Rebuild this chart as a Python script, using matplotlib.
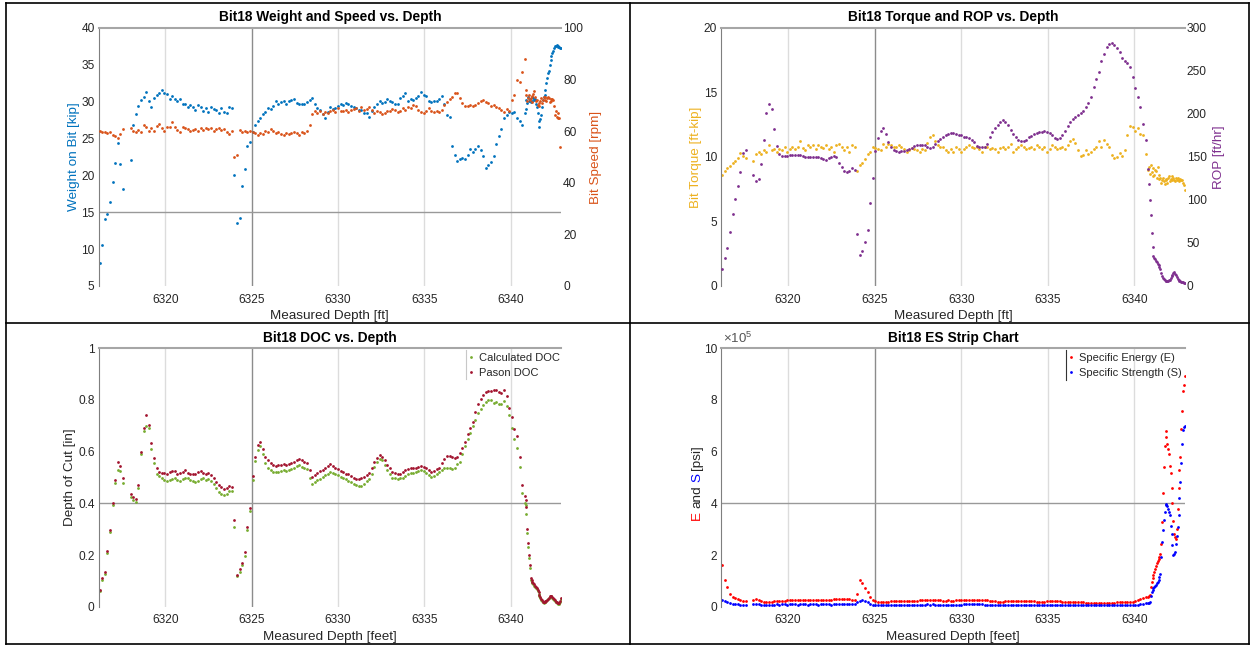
import numpy as np
import matplotlib
matplotlib.use('Agg')
import matplotlib.pyplot as plt
from matplotlib.lines import Line2D

nan = np.nan

# measured depth [ft], shared by all four strip charts
depth = [
    6316.2, 6316.35, 6316.5, 6316.65, 6316.8, 6316.95, 6317.1, 6317.25, 6317.4, 6317.55,
    6317.7, 6317.85, 6318.0, 6318.15, 6318.3, 6318.45, 6318.6, 6318.75, 6318.9, 6319.05,
    6319.2, 6319.35, 6319.5, 6319.65, 6319.8, 6319.95, 6320.1, 6320.25, 6320.4, 6320.55,
    6320.7, 6320.85, 6321.0, 6321.15, 6321.3, 6321.45, 6321.6, 6321.75, 6321.9, 6322.05,
    6322.2, 6322.35, 6322.5, 6322.65, 6322.8, 6322.95, 6323.1, 6323.25, 6323.4, 6323.55,
    6323.7, 6323.85, 6324.0, 6324.15, 6324.3, 6324.45, 6324.6, 6324.75, 6324.9, 6325.05,
    6325.2, 6325.35, 6325.5, 6325.65, 6325.8, 6325.95, 6326.1, 6326.25, 6326.4, 6326.55,
    6326.7, 6326.85, 6327.0, 6327.15, 6327.3, 6327.45, 6327.6, 6327.75, 6327.9, 6328.05,
    6328.2, 6328.35, 6328.5, 6328.65, 6328.8, 6328.95, 6329.1, 6329.25, 6329.4, 6329.55,
    6329.7, 6329.85, 6330.0, 6330.15, 6330.3, 6330.45, 6330.6, 6330.75, 6330.9, 6331.05,
    6331.2, 6331.35, 6331.5, 6331.65, 6331.8, 6331.95, 6332.1, 6332.25, 6332.4, 6332.55,
    6332.7, 6332.85, 6333.0, 6333.15, 6333.3, 6333.45, 6333.6, 6333.75, 6333.9, 6334.05,
    6334.2, 6334.35, 6334.5, 6334.65, 6334.8, 6334.95, 6335.1, 6335.25, 6335.4, 6335.55,
    6335.7, 6335.85, 6336.0, 6336.15, 6336.3, 6336.45, 6336.6, 6336.75, 6336.9, 6337.05,
    6337.2, 6337.35, 6337.5, 6337.65, 6337.8, 6337.95, 6338.1, 6338.25, 6338.4, 6338.55,
    6338.7, 6338.85, 6339.0, 6339.15, 6339.3, 6339.45, 6339.6, 6339.75, 6339.9, 6340.05,
    6340.2, 6340.35, 6340.5, 6340.65, 6340.8,
    6340.85, 6340.9, 6340.95, 6341.0, 6341.05, 6341.1, 6341.15, 6341.2, 6341.25, 6341.3,
    6341.35, 6341.4, 6341.45, 6341.5, 6341.55, 6341.6, 6341.65, 6341.7, 6341.75, 6341.8,
    6341.85, 6341.9, 6341.95, 6342.0, 6342.05, 6342.1, 6342.15, 6342.2, 6342.25, 6342.3,
    6342.35, 6342.4, 6342.45, 6342.5, 6342.55, 6342.6, 6342.65, 6342.7, 6342.75, 6342.8,
    6342.85, 6342.9,
]

# weight on bit [kip]
wob = [
    8.1, 10.5, 14.1, 14.8, 16.4, 19.1, 21.7, 24.4, 21.5, 18.2,
    nan, nan, 22.1, 26.8, 28.3, 29.4, 30.2, 30.6, 31.3, 30.0,
    29.3, 30.5, 30.9, 31.1, 31.5, 31.2, 31.0, 30.4, 30.8, 30.3,
    30.1, 30.3, 29.7, 29.6, 29.2, 29.5, 29.2, 28.8, 29.5, 29.2,
    28.7, 29.1, 28.6, 29.3, 29.0, 28.8, 28.5, 29.1, 28.6, 28.4,
    29.2, 29.1, 20.0, 13.5, 14.2, 18.6, 20.9, 24.0, 24.5, 25.9,
    26.8, 27.3, 27.7, 28.3, 28.6, 29.1, 29.0, 29.4, 30.0, 29.6,
    29.9, 30.1, 29.6, 30.0, 30.2, 30.4, 29.8, 29.6, 29.7, 29.6,
    29.9, 30.2, 30.5, 29.6, 29.1, 28.8, 28.3, 27.8, 28.6, 29.3,
    29.0, 29.1, 29.4, 29.6, 29.5, 29.8, 29.7, 29.4, 29.2, 29.1,
    28.9, 28.8, 28.5, 28.4, 27.9, 28.7, 29.2, 29.7, 30.0, 29.8,
    29.9, 30.3, 30.0, 29.9, 29.7, 29.6, 30.5, 30.7, 31.1, 30.1,
    30.3, 30.2, 30.5, 30.8, 31.3, 30.9, 30.7, 30.0, 29.9, 30.0,
    30.1, 30.4, 30.7, 29.6, 28.2, 27.9, 24.0, 22.8, 21.9, 22.2,
    22.4, 22.2, 22.8, 23.6, 23.2, 23.6, 24.0, 23.4, 22.6, 21.0,
    21.4, 21.8, 22.6, 24.3, 25.3, 26.3, 27.8, 28.2, 28.6, 28.5,
    28.6, 27.8, 27.4, 26.8, 28.4,
    29.0, 30.2, 29.8, 30.6, 30.0, 30.4, 29.9, 30.6, 30.1, 30.5,
    30.2, 30.4, 29.6, 29.3, 28.4, 27.3, 26.6, 27.6, 28.2, 29.3,
    30.2, 30.6, 30.9, 31.6, 32.5, 33.2, 33.8, 34.2, 35.0, 35.6,
    36.1, 36.6, 36.9, 37.3, 37.5, 37.5, 37.6, 37.4, 37.5, 37.4,
    37.3, 37.2,
]

# bit speed [rpm]
rpm = [
    60.0, 59.6, 59.8, 59.4, 59.7, 58.6, 58.0, 57.4, 58.9, 60.9,
    nan, nan, 61.3, 60.0, 59.7, 60.4, 59.5, 62.3, 61.6, 59.9,
    61.0, 60.0, 62.1, 62.6, 61.0, 60.0, 61.7, 61.4, 63.4, 61.7,
    60.4, 59.7, 61.5, 61.0, 60.8, 60.0, 60.4, 60.9, 60.1, 61.0,
    60.4, 61.0, 60.6, 61.2, 60.2, 60.8, 61.1, 60.5, 60.9, 59.7,
    58.7, 60.2, 50.1, 50.8, 60.4, 59.5, 60.0, 59.5, 59.9, 59.7,
    59.4, 58.3, 59.2, 58.8, 60.0, 59.5, 60.6, 60.0, 59.4, 59.8,
    59.0, 58.5, 59.1, 58.7, 59.3, 59.8, 59.2, 58.6, 59.7, 59.4,
    60.0, 62.5, 66.5, 67.7, 66.8, 67.6, 66.5, 67.2, 66.9, 67.7,
    68.1, 67.3, 68.8, 67.9, 67.7, 68.1, 67.5, 68.1, 68.4, 68.8,
    67.6, 69.4, 68.1, 68.6, 69.4, 68.2, 66.8, 67.9, 67.2, 66.6,
    66.8, 67.9, 67.7, 68.4, 68.1, 67.4, 67.7, 68.8, 68.2, 69.4,
    68.9, 70.1, 69.5, 68.1, 67.4, 66.8, 67.6, 68.8, 67.8, 67.2,
    67.7, 67.3, 68.0, 70.1, 71.4, 72.5, 73.3, 74.8, 74.6, 72.9,
    70.7, 69.8, 69.7, 70.2, 69.7, 69.9, 70.7, 71.6, 72.2, 71.3,
    70.8, 69.7, 69.9, 69.2, 68.8, 68.3, 67.5, 68.6, 67.9, 72.0,
    73.9, 79.7, 79.0, 82.9, 88.0,
    76.0, 73.9, 71.5, 72.8, 74.0, 71.9, 72.6, 73.5, 71.2, 74.2,
    75.6, 73.0, 71.8, 72.0, 70.2, 70.9, 69.8, 71.5, 72.6, 71.0,
    72.2, 73.0, 73.3, 72.1, 71.5, 72.8, 73.1, 72.6, 71.4, 72.3,
    71.8, 72.5, 72.0, 69.5, 66.2, 67.8, 65.5, 66.8, 65.0, 65.0,
    54.0, nan,
]

# bit torque [ft-kip]
torque = [
    8.6, 8.9, 9.1, 9.3, 9.5, 9.7, 9.9, 10.3, 10.1, 9.9,
    nan, nan, 9.7, 10.2, 10.4, 10.2, 10.5, 10.4, 10.9, 10.5,
    10.6, 10.4, 10.6, 10.5, 10.75, 10.4, 10.6, 10.8, 10.6, 10.75,
    11.2, 10.7, 10.5, 10.9, 10.75, 10.9, 10.6, 10.9, 10.8, 10.7,
    10.9, 10.6, 10.8, 10.4, 10.9, 11.0, 10.75, 10.5, 10.75, 10.4,
    10.9, 10.8, 8.9, 9.4, 9.5, 9.8, 10.2, 10.4, 10.75, 10.7,
    10.6, 10.5, 11.0, 10.8, 11.0, 10.9, 10.75, 10.8, 10.9, 10.75,
    10.6, 10.4, 10.5, 10.7, 10.6, 10.5, 10.4, 10.6, 10.5, 11.1,
    11.5, 11.7, 11.2, 10.9, 10.8, 10.75, 10.5, 10.4, 10.6, 10.4,
    10.75, 10.6, 10.4, 10.6, 10.8, 10.9, 10.8, 10.7, 10.75, 10.6,
    10.4, 10.8, 10.75, 10.6, 10.7, 10.6, 10.4, 10.7, 10.8, 10.6,
    10.75, 11.0, 10.4, 10.6, 10.75, 10.9, 10.75, 10.6, 10.7, 10.8,
    10.6, 10.9, 10.8, 10.6, 10.75, 10.4, 10.6, 10.9, 10.75, 10.6,
    10.7, 10.8, 10.6, 10.9, 11.2, 11.35, 11.1, 10.5, 10.1, 10.15,
    10.5, 10.2, 10.4, 10.6, 10.75, 11.2, 10.75, 11.3, 11.0, 10.8,
    10.15, 9.9, 10.0, 10.3, 10.1, 10.5, 11.7, 12.4, 12.3, 12.0,
    12.2, 11.8, 11.7, 10.2, 9.0,
    9.2, 8.7, 9.4, 8.8, 9.1, 8.5, 8.6, 9.0, 8.9, 8.4,
    9.25, 8.6, 8.3, 8.35, 8.0, 8.2, 8.4, 8.1, 7.9, 8.2,
    8.3, 8.0, 8.4, 8.5, 8.1, 8.3, 8.5, 8.2, 8.4, 8.2,
    8.1, 8.35, 8.2, 8.4, 8.2, 8.1, 8.3, 8.2, 8.2, 8.0,
    7.8, 7.45,
]

# rate of penetration [ft/hr]
rop = [
    20.0, 33.0, 44.7, 63.0, 84.0, 101.0, 116.0, 132.0, 154.0, 157.4,
    nan, nan, 129.0, 122.4, 124.5, 142.0, 170.0, 201.3, 211.5, 205.0,
    182.0, 163.0, 153.0, 151.0, 150.8, 151.2, 151.6, 152.0, 152.2, 152.5,
    152.7, 151.5, 150.4, 149.8, 149.6, 150.0, 150.4, 149.8, 148.9, 147.8,
    146.9, 148.2, 149.6, 151.0, 149.5, 143.0, 138.0, 133.3, 132.1, 133.5,
    136.5, 135.2, 60.0, 36.5, 41.0, 51.0, 65.0, 96.0, 125.0, 157.0,
    172.0, 180.0, 183.4, 176.0, 167.0, 161.0, 158.0, 156.5, 156.2, 156.6,
    157.0, 158.0, 158.8, 160.5, 162.8, 163.8, 164.0, 163.6, 163.2, 161.0,
    160.5, 161.5, 165.0, 168.0, 171.0, 173.5, 175.7, 177.0, 178.0, 178.0,
    176.7, 175.5, 174.8, 173.6, 172.7, 171.6, 170.0, 166.8, 162.6, 161.5,
    161.3, 161.5, 165.2, 173.5, 178.5, 183.0, 187.0, 190.8, 192.4, 190.5,
    186.5, 180.7, 176.0, 172.5, 170.0, 168.8, 168.0, 169.8, 172.5, 174.5,
    176.0, 177.3, 178.5, 179.2, 179.6, 179.3, 178.2, 174.9, 172.3, 170.6,
    171.5, 175.0, 180.4, 185.5, 190.0, 193.4, 196.3, 198.5, 200.4, 203.0,
    207.5, 212.5, 220.0, 231.0, 240.0, 248.7, 261.0, 270.0, 277.7, 281.5,
    282.0, 279.8, 276.0, 272.0, 264.5, 261.5, 258.5, 254.0, 243.0, 230.0,
    219.0, 208.3, 188.0, 170.0, 136.0,
    118.0, 100.0, 82.0, 62.0, 45.0, 34.7, 32.8, 31.0, 29.2, 27.5,
    26.0, 24.5, 22.0, 19.5, 15.5, 12.0, 9.5, 8.0, 7.0, 6.2,
    5.8, 5.8, 6.0, 6.5, 7.5, 9.0, 11.5, 13.0, 15.0, 16.2,
    14.5, 12.5, 10.5, 8.5, 7.2, 6.2, 5.6, 5.0, 4.6, 4.2,
    3.9, 3.6,
]

# depth of cut [in]
doc_calc = [
    0.062, 0.104, 0.128, 0.208, 0.288, 0.392, 0.480, 0.530, 0.525, 0.478,
    nan, nan, 0.425, 0.412, 0.405, 0.460, 0.590, 0.680, 0.700, 0.690,
    0.610, 0.555, 0.515, 0.505, 0.498, 0.492, 0.485, 0.490, 0.495, 0.500,
    0.492, 0.488, 0.494, 0.500, 0.497, 0.490, 0.485, 0.482, 0.488, 0.495,
    0.497, 0.490, 0.493, 0.488, 0.475, 0.460, 0.445, 0.437, 0.432, 0.438,
    0.446, 0.448, 0.310, 0.118, 0.135, 0.160, 0.198, 0.295, 0.370, 0.490,
    0.565, 0.605, 0.622, 0.590, 0.555, 0.538, 0.528, 0.522, 0.522, 0.520,
    0.526, 0.528, 0.524, 0.529, 0.534, 0.538, 0.545, 0.548, 0.541, 0.537,
    0.532, 0.497, 0.475, 0.483, 0.490, 0.496, 0.502, 0.508, 0.515, 0.521,
    0.518, 0.512, 0.508, 0.502, 0.500, 0.494, 0.488, 0.482, 0.476, 0.470,
    0.466, 0.468, 0.475, 0.485, 0.495, 0.515, 0.540, 0.560, 0.570, 0.566,
    0.550, 0.530, 0.512, 0.500, 0.497, 0.495, 0.498, 0.500, 0.505, 0.512,
    0.518, 0.517, 0.522, 0.525, 0.528, 0.524, 0.518, 0.508, 0.502, 0.505,
    0.514, 0.520, 0.530, 0.535, 0.538, 0.536, 0.533, 0.538, 0.552, 0.560,
    0.590, 0.620, 0.648, 0.672, 0.700, 0.722, 0.748, 0.765, 0.782, 0.792,
    0.800, 0.798, 0.790, 0.792, 0.786, 0.785, 0.795, 0.775, 0.740, 0.690,
    0.650, 0.615, 0.540, 0.440, 0.400,
    0.395, 0.360, 0.285, 0.232, 0.190, 0.150, 0.104, 0.097, 0.092, 0.087,
    0.082, 0.077, 0.072, 0.067, 0.059, 0.051, 0.043, 0.034, 0.027, 0.021,
    0.017, 0.016, 0.017, 0.019, 0.021, 0.024, 0.028, 0.032, 0.037, 0.040,
    0.039, 0.035, 0.031, 0.027, 0.022, 0.018, 0.016, 0.013, 0.011, 0.012,
    0.019, 0.028,
]

doc_pason = [
    0.065, 0.110, 0.133, 0.215, 0.295, 0.400, 0.490, 0.560, 0.545, 0.497,
    nan, nan, 0.435, 0.424, 0.417, 0.470, 0.600, 0.690, 0.740, 0.705,
    0.635, 0.575, 0.535, 0.523, 0.518, 0.516, 0.512, 0.520, 0.527, 0.525,
    0.512, 0.516, 0.523, 0.528, 0.518, 0.514, 0.515, 0.512, 0.520, 0.525,
    0.518, 0.515, 0.519, 0.510, 0.500, 0.482, 0.470, 0.462, 0.455, 0.458,
    0.466, 0.462, 0.335, 0.123, 0.145, 0.170, 0.210, 0.310, 0.381, 0.505,
    0.580, 0.625, 0.639, 0.610, 0.580, 0.568, 0.557, 0.548, 0.546, 0.547,
    0.549, 0.551, 0.547, 0.552, 0.557, 0.561, 0.567, 0.571, 0.566, 0.561,
    0.558, 0.528, 0.502, 0.510, 0.516, 0.524, 0.530, 0.537, 0.545, 0.551,
    0.544, 0.538, 0.531, 0.526, 0.520, 0.515, 0.512, 0.505, 0.500, 0.496,
    0.494, 0.497, 0.503, 0.510, 0.518, 0.537, 0.561, 0.577, 0.587, 0.581,
    0.566, 0.550, 0.535, 0.522, 0.516, 0.512, 0.514, 0.520, 0.529, 0.534,
    0.537, 0.535, 0.535, 0.542, 0.545, 0.540, 0.537, 0.529, 0.523, 0.527,
    0.532, 0.538, 0.555, 0.570, 0.585, 0.584, 0.580, 0.574, 0.579, 0.596,
    0.615, 0.639, 0.668, 0.690, 0.715, 0.752, 0.785, 0.805, 0.820, 0.832,
    0.836, 0.834, 0.838, 0.840, 0.832, 0.827, 0.840, 0.815, 0.770, 0.735,
    0.686, 0.660, 0.580, 0.470, 0.427,
    0.412, 0.385, 0.300, 0.245, 0.200, 0.160, 0.110, 0.102, 0.097, 0.092,
    0.086, 0.081, 0.076, 0.071, 0.063, 0.055, 0.046, 0.037, 0.030, 0.024,
    0.019, 0.018, 0.019, 0.021, 0.023, 0.026, 0.030, 0.034, 0.040, 0.043,
    0.041, 0.037, 0.033, 0.029, 0.024, 0.020, 0.018, 0.015, 0.013, 0.014,
    0.022, 0.032,
]

# specific energy and specific strength, in units of 1e5 psi
spec_energy = [
    1.60, 1.05, 0.75, 0.50, 0.38, 0.33, 0.29, 0.24, 0.21, 0.22,
    nan, nan, 0.26, 0.30, 0.27, 0.21, 0.18, 0.17, 0.19, 0.20,
    0.21, 0.22, 0.22, 0.23, 0.23, 0.24, 0.24, 0.24, 0.25, 0.24,
    0.25, 0.25, 0.24, 0.25, 0.25, 0.26, 0.25, 0.25, 0.26, 0.26,
    0.26, 0.27, 0.27, 0.28, 0.28, 0.29, 0.30, 0.30, 0.29, 0.28,
    0.27, 0.26, 0.50, 1.02, 0.90, 0.74, 0.55, 0.38, 0.27, 0.21,
    0.18, 0.17, 0.19, 0.20, 0.20, 0.21, 0.21, 0.22, 0.21, 0.22,
    0.22, 0.22, 0.23, 0.22, 0.23, 0.23, 0.24, 0.24, 0.25, 0.24,
    0.25, 0.26, 0.25, 0.24, 0.24, 0.23, 0.23, 0.24, 0.23, 0.23,
    0.24, 0.24, 0.24, 0.25, 0.25, 0.26, 0.26, 0.27, 0.27, 0.26,
    0.26, 0.25, 0.24, 0.23, 0.22, 0.21, 0.20, 0.20, 0.20, 0.21,
    0.21, 0.22, 0.22, 0.23, 0.23, 0.22, 0.22, 0.22, 0.21, 0.21,
    0.21, 0.20, 0.20, 0.20, 0.20, 0.21, 0.21, 0.22, 0.22, 0.21,
    0.21, 0.20, 0.20, 0.19, 0.19, 0.18, 0.18, 0.17, 0.17, 0.17,
    0.16, 0.16, 0.16, 0.15, 0.15, 0.15, 0.15, 0.15, 0.15, 0.16,
    0.16, 0.16, 0.17, 0.17, 0.18, 0.18, 0.19, 0.19, 0.20, 0.22,
    0.25, 0.31, 0.33, 0.37, 0.38,
    0.40, 0.45, 0.75, 0.95, 1.10, 1.22, 1.35, 1.47, 1.58, 1.68,
    1.76, 1.85, 1.92, 2.05, 2.44, 3.27, 4.40, 5.42, 6.20, 6.79,
    6.55, 6.30, 6.12, 5.90, 5.45, 5.19, 4.60, 4.00, 3.33, 2.82,
    2.70, 2.63, 3.00, 3.80, 4.60, 5.30, 5.80, 6.86, 7.56, 8.33,
    8.59, 8.91,
]

spec_strength = [
    0.27, 0.22, 0.18, 0.14, 0.11, 0.10, 0.09, 0.08, 0.07, 0.05,
    nan, nan, 0.09, 0.12, 0.10, 0.08, 0.07, 0.07, 0.07, 0.08,
    0.08, 0.09, 0.08, 0.09, 0.09, 0.08, 0.09, 0.09, 0.09, 0.08,
    0.09, 0.09, 0.09, 0.08, 0.09, 0.09, 0.09, 0.08, 0.09, 0.09,
    0.09, 0.09, 0.08, 0.09, 0.09, 0.09, 0.10, 0.10, 0.10, 0.09,
    0.09, 0.09, 0.18, 0.23, 0.24, 0.22, 0.17, 0.12, 0.08, 0.06,
    0.06, 0.06, 0.06, 0.07, 0.07, 0.07, 0.07, 0.07, 0.07, 0.08,
    0.07, 0.07, 0.08, 0.07, 0.08, 0.08, 0.08, 0.08, 0.08, 0.09,
    0.08, 0.09, 0.08, 0.08, 0.08, 0.08, 0.08, 0.08, 0.08, 0.08,
    0.08, 0.08, 0.08, 0.09, 0.09, 0.09, 0.09, 0.09, 0.09, 0.09,
    0.09, 0.08, 0.08, 0.08, 0.07, 0.07, 0.07, 0.07, 0.07, 0.07,
    0.08, 0.08, 0.08, 0.08, 0.08, 0.08, 0.07, 0.07, 0.07, 0.07,
    0.07, 0.07, 0.07, 0.07, 0.07, 0.07, 0.07, 0.08, 0.08, 0.07,
    0.07, 0.07, 0.07, 0.07, 0.06, 0.06, 0.06, 0.06, 0.06, 0.06,
    0.06, 0.05, 0.05, 0.05, 0.05, 0.05, 0.05, 0.05, 0.05, 0.05,
    0.05, 0.05, 0.05, 0.05, 0.06, 0.06, 0.06, 0.06, 0.06, 0.07,
    0.08, 0.10, 0.11, 0.13, 0.14,
    0.15, 0.19, 0.40, 0.55, 0.65, 0.71, 0.76, 0.80, 0.83, 0.90,
    0.97, 1.05, 1.15, 1.25, 1.92, 2.50, 2.95, 3.35, 3.65, 3.97,
    3.95, 3.91, 3.78, 3.65, 3.53, 3.14, 2.80, 2.40, 1.99, 2.05,
    2.12, 2.44, 2.75, 3.10, 3.53, 4.20, 4.81, 5.58, 6.28, 6.83,
    6.95, 6.99,
]

depth_ticks = [6320, 6325, 6330, 6335, 6340]

# matlab default colours
BLUE = '#0072BD'
ORANGE = '#D95319'
YELLOW = '#EDB120'
PURPLE = '#7E2F8E'
GREEN = '#77AC30'
CRIMSON = '#A2142F'
TXT = '#262626'

TICK_FS = 8.6
LABEL_FS = 9.7
TITLE_FS = 9.9
LEG_FS = 8.0

plt.rcParams['font.family'] = ['Liberation Sans', 'DejaVu Sans']
plt.rcParams['mathtext.fontset'] = 'custom'
plt.rcParams['mathtext.rm'] = 'Liberation Sans'

W, H = 1252, 646
fig = plt.figure(figsize=(W / 100, H / 100), dpi=100)


def px_axes(left, top, right, bottom):
    return fig.add_axes([left / W, 1 - bottom / H, (right - left) / W, (bottom - top) / H])


def style(ax, xlabel, title, hline):
    ax.set_xlim(6316.15, 6342.9)
    ax.set_xticks(depth_ticks)
    ax.tick_params(length=0, labelsize=TICK_FS, colors=TXT)
    ax.tick_params(axis='x', pad=5.5)
    ax.tick_params(axis='y', pad=3)
    ax.spines['bottom'].set_visible(False)
    ax.spines['right'].set_visible(False)
    ax.spines['top'].set_color('#a6a6a6')
    ax.spines['top'].set_linewidth(1.5)
    ax.spines['left'].set_color('#7f7f7f')
    for x in depth_ticks:
        c = '#8c8c8c' if x == 6325 else '#dcdcdc'
        ax.axvline(x, color=c, lw=1.0, zorder=0)
    if hline is not None:
        ax.axhline(hline, color='#999999', lw=1.0, zorder=0)
    ax.set_xlabel(xlabel, fontsize=LABEL_FS, color=TXT, labelpad=3)
    ax.set_title(title, fontsize=TITLE_FS, fontweight='bold', pad=4.5)


def twin_style(ax2):
    for s in ax2.spines.values():
        s.set_visible(False)
    ax2.tick_params(length=0, labelsize=TICK_FS, colors=TXT, pad=1.5)


def dots(ax, y, color):
    ax.plot(depth, y, 'o', ms=2.0, mew=0, color=color)


# --- weight and speed ---
ax1 = px_axes(98.7, 27.7, 561, 286)
style(ax1, 'Measured Depth [ft]', 'Bit18 Weight and Speed vs. Depth', 15)
ax1.set_ylim(5, 40)
ax1.set_yticks([5, 10, 15, 20, 25, 30, 35, 40])
dots(ax1, wob, BLUE)
ax1b = ax1.twinx()
twin_style(ax1b)
ax1b.set_ylim(0, 100)
ax1b.set_yticks([0, 20, 40, 60, 80, 100])
dots(ax1b, rpm, ORANGE)
fig.text(74 / W, 1 - 157 / H, 'Weight on Bit [kip]', rotation=90, ha='center', va='center', fontsize=LABEL_FS, color=BLUE)
fig.text(596 / W, 1 - 157 / H, 'Bit Speed [rpm]', rotation=90, ha='center', va='center', fontsize=LABEL_FS, color=ORANGE)

# --- torque and rop ---
ax2 = px_axes(721.3, 27.7, 1184.6, 286)
style(ax2, 'Measured Depth [ft]', 'Bit18 Torque and ROP vs. Depth', None)
ax2.set_ylim(0, 20)
ax2.set_yticks([0, 5, 10, 15, 20])
dots(ax2, torque, YELLOW)
ax2b = ax2.twinx()
twin_style(ax2b)
ax2b.set_ylim(0, 300)
ax2b.set_yticks([0, 50, 100, 150, 200, 250, 300])
dots(ax2b, rop, PURPLE)
fig.text(696 / W, 1 - 157 / H, 'Bit Torque [ft-kip]', rotation=90, ha='center', va='center', fontsize=LABEL_FS, color=YELLOW)
fig.text(1219 / W, 1 - 157 / H, 'ROP [ft/hr]', rotation=90, ha='center', va='center', fontsize=LABEL_FS, color=PURPLE)

# --- depth of cut ---
ax3 = px_axes(98.7, 348.3, 561, 606.7)
style(ax3, 'Measured Depth [feet]', 'Bit18 DOC vs. Depth', 0.4)
ax3.set_ylim(0, 1)
ax3.set_yticks([0, 0.2, 0.4, 0.6, 0.8, 1])
ax3.set_yticklabels(['0', '0.2', '0.4', '0.6', '0.8', '1'])
ax3.plot(depth, doc_calc, 'o', ms=2.0, mew=0, color=GREEN, label='Calculated DOC')
ax3.plot(depth, doc_pason, 'o', ms=2.0, mew=0, color=CRIMSON, label='Pason DOC')
fig.text(70 / W, 1 - 477.5 / H, 'Depth of Cut [in]', rotation=90, ha='center', va='center', fontsize=LABEL_FS, color=TXT)
leg3 = ax3.legend(loc='upper left', bbox_to_anchor=((466 - 98.7) / 462.3, 0.99), frameon=False,
                  fontsize=LEG_FS, handlelength=0.6, handletextpad=0.45, borderpad=0.15, borderaxespad=0,
                  labelspacing=0.45)
for t in leg3.get_texts():
    t.set_color(TXT)
fig.add_artist(Line2D([466 / W, 466 / W], [1 - 350 / H, 1 - 379 / H], color='#c8c8c8', lw=0.8))

# --- specific energy strip chart ---
ax4 = px_axes(721.3, 348.3, 1184.6, 606.7)
style(ax4, 'Measured Depth [feet]', 'Bit18 ES Strip Chart', 4)
ax4.set_ylim(0, 10)
ax4.set_yticks([0, 2, 4, 6, 8, 10])
ax4.plot(depth, spec_energy, 'o', ms=2.0, mew=0, color='#ff0000', label='Specific Energy (E)')
ax4.plot(depth, spec_strength, 'o', ms=2.0, mew=0, color='#0000ff', label='Specific Strength (S)')
leg4 = ax4.legend(loc='upper left', bbox_to_anchor=((1066 - 721.3) / 463.3, 0.99), frameon=False,
                  fontsize=LEG_FS, handlelength=0.6, handletextpad=0.45, borderpad=0.15, borderaxespad=0,
                  labelspacing=0.45)
for t in leg4.get_texts():
    t.set_color(TXT)
fig.add_artist(Line2D([1066 / W, 1066 / W], [1 - 350 / H, 1 - 380 / H], color='#333333', lw=0.8))
fig.text(723 / W, 1 - 338 / H, r'$\times10^{5}$', fontsize=9.5, color='#555555', va='center', ha='left')

# two-colour y label built from pieces stacked upwards
prev = fig.text(697 / W, 1 - 520 / H, 'E', rotation=90, ha='center', va='bottom', fontsize=LABEL_FS, color='#ff0000')
for piece, col in [('and', TXT), ('S', '#0000ff'), ('[psi]', TXT)]:
    prev = ax4.annotate(piece, xy=(0.5, 1), xycoords=prev, xytext=(0, 2.3), textcoords='offset points',
                        rotation=90, ha='center', va='bottom', fontsize=LABEL_FS, color=col,
                        annotation_clip=False)

# table borders around the four panels
for x in (6, 630, 1249):
    fig.add_artist(Line2D([x / W, x / W], [1 - 2.5 / H, 1 - 644 / H], color='black', lw=1.2))
for y in (2.5, 323, 644):
    fig.add_artist(Line2D([6 / W, 1249 / W], [1 - y / H, 1 - y / H], color='black', lw=1.2))

fig.savefig('out.png', dpi=100, facecolor='white')
